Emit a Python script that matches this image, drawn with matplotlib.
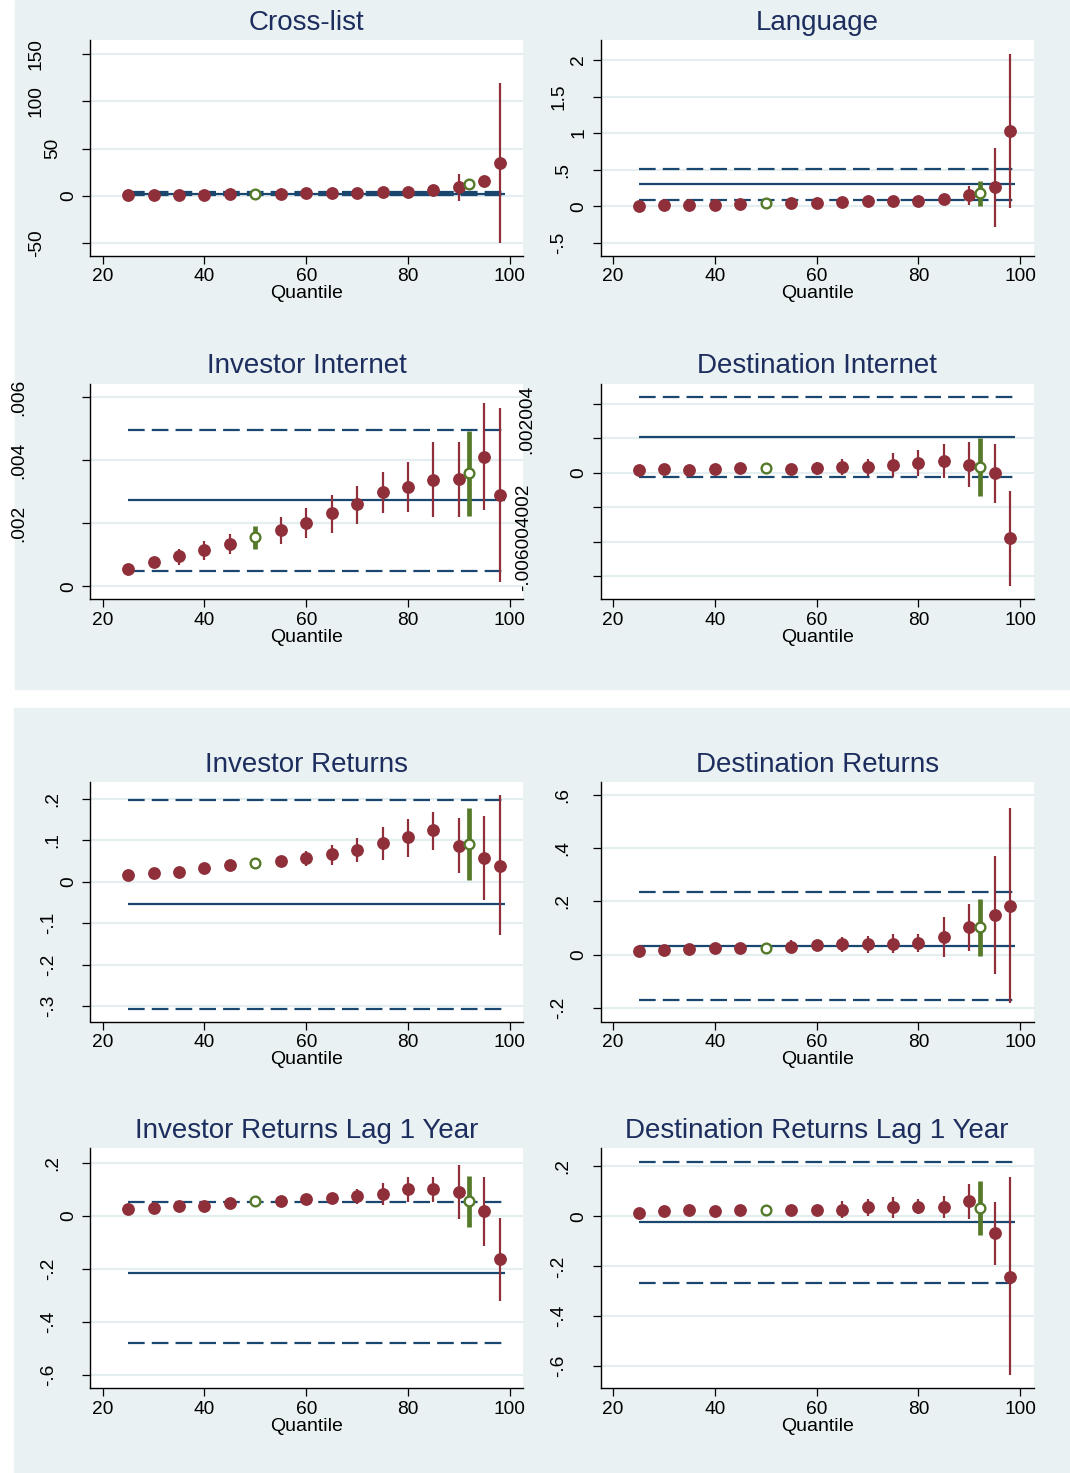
import matplotlib
matplotlib.use("Agg")
import matplotlib.pyplot as plt
import matplotlib.patches as mpatches
import matplotlib.transforms as mtrans
import numpy as np

plt.rcParams['font.family'] = ['Liberation Sans', 'DejaVu Sans']

# ---------------------- colours (stata s2color look)
bg_col = '#e9f1f2'
grid_col = '#e4eef0'
red_col = '#8f2f3a'
green_col = '#557a2a'
navy_col = '#1a476f'
title_col = '#1c2d5e'

# ---------------------- data
q_red = [25, 30, 35, 40, 45, 55, 60, 65, 70, 75, 80, 85, 90, 95, 98]
q_green = [50, 92]
line_span = [25, 99]
x_ticks = [20, 40, 60, 80, 100]

titles = ['Cross-list', 'Language', 'Investor Internet', 'Destination Internet',
          'Investor Returns', 'Destination Returns',
          'Investor Returns Lag 1 Year', 'Destination Returns Lag 1 Year']

# Cross-list
cross_val = [1, 1, 1, 1, 2, 2, 3, 3, 3, 3.5, 4, 6, 9, 15.5, 35]
cross_lo = [0.5, 0.5, 0.5, 0.5, 1, 1, 2, 2, 2, 2.5, 2.5, 4, -6, 12, -50]
cross_hi = [1.5, 1.5, 1.5, 1.5, 3, 3, 4, 4, 4, 4.5, 5.5, 8, 22.7, 19, 120]
cross_gval = [2, 12]
cross_glo = [1.5, 10.5]
cross_ghi = [2.5, 13.5]
cross_ols = [2.2, 0.3, 4.3]
cross_yticks = [-50, 0, 50, 100, 150]
cross_ylab = ['-50', '0', '50', '100', '150']

# Language
lang_val = [0.0, 0.01, 0.02, 0.02, 0.03, 0.04, 0.05, 0.055, 0.065, 0.065, 0.075, 0.10, 0.15, 0.26, 1.03]
lang_lo = [-0.01, 0.0, 0.01, 0.01, 0.02, 0.03, 0.04, 0.045, 0.055, 0.055, 0.06, 0.08, 0.01, -0.29, -0.02]
lang_hi = [0.01, 0.02, 0.03, 0.03, 0.04, 0.05, 0.06, 0.065, 0.075, 0.075, 0.09, 0.12, 0.28, 0.80, 2.08]
lang_gval = [0.04, 0.18]
lang_glo = [0.03, 0.0]
lang_ghi = [0.05, 0.35]
lang_ols = [0.30, 0.084, 0.51]
lang_yticks = [-0.5, 0, 0.5, 1, 1.5, 2]
lang_ylab = ['-.5', '0', '.5', '1', '1.5', '2']

# Investor Internet
iint_val = [0.00054, 0.00076, 0.00095, 0.00115, 0.00134, 0.00179, 0.00201, 0.00232,
            0.0026, 0.00298, 0.00314, 0.00338, 0.0034, 0.00411, 0.00289]
iint_lo = [0.00035, 0.00062, 0.00067, 0.00083, 0.00102, 0.00135, 0.00152, 0.0017,
           0.00199, 0.00233, 0.00235, 0.00221, 0.00221, 0.00243, 0.00013]
iint_hi = [0.00067, 0.00094, 0.00119, 0.00143, 0.00167, 0.00221, 0.00249, 0.00289,
           0.00318, 0.00363, 0.00396, 0.00457, 0.00457, 0.00582, 0.00567]
iint_gval = [0.00156, 0.0036]
iint_glo = [0.00119, 0.00224]
iint_ghi = [0.00192, 0.00492]
iint_ols = [0.00274, 0.0005, 0.00495]
iint_yticks = [0, 0.002, 0.004, 0.006]
iint_ylab = ['0', '.002', '.004', '.006']

# Destination Internet
dint_val = [0.00018, 0.00022, 0.00018, 0.00022, 0.00026, 0.00022, 0.00026, 0.00034,
            0.00036, 0.00043, 0.00059, 0.00071, 0.00047, 0.0, -0.00381]
dint_lo = [0.0001, 0.00014, 0.0001, 0.00014, 0.00018, 0.00014, -0.0001, -0.00014,
           -0.00016, -0.00024, -0.00016, -0.0003, -0.00085, -0.00174, -0.00656]
dint_hi = [0.00026, 0.0003, 0.00026, 0.0003, 0.00034, 0.0003, 0.00063, 0.00079,
           0.00083, 0.00113, 0.00132, 0.00168, 0.00178, 0.00168, -0.00105]
dint_gval = [0.00026, 0.00032]
dint_glo = [0.00018, -0.00134]
dint_ghi = [0.00034, 0.00202]
dint_ols = [0.00211, -0.00022, 0.00439]
dint_yticks = [-0.006, -0.004, -0.002, 0, 0.002, 0.004]
dint_ylab = ['', '', '', '0', '', '']

# Investor Returns
iret_val = [0.0156, 0.0206, 0.0239, 0.033, 0.0395, 0.050, 0.0576, 0.0675, 0.075,
            0.092, 0.107, 0.125, 0.086, 0.0576, 0.0387]
iret_lo = [0.011, 0.016, 0.019, 0.028, 0.034, 0.0354, 0.037, 0.041, 0.047,
           0.0519, 0.060, 0.0765, 0.0206, -0.0436, -0.129]
iret_hi = [0.020, 0.025, 0.029, 0.038, 0.045, 0.0617, 0.074, 0.0889, 0.1045,
           0.1317, 0.1506, 0.1687, 0.154, 0.158, 0.208]
iret_gval = [0.045, 0.0905]
iret_glo = [0.037, 0.004]
iret_ghi = [0.0535, 0.177]
iret_ols = [-0.0535, -0.306, 0.1975]
iret_yticks = [-0.3, -0.2, -0.1, 0, 0.1, 0.2]
iret_ylab = ['-.3', '-.2', '-.1', '0', '.1', '.2']

# Destination Returns
dret_val = [0.014, 0.0154, 0.022, 0.023, 0.0257, 0.0295, 0.036, 0.041, 0.0385,
            0.041, 0.0437, 0.0655, 0.104, 0.149, 0.184]
dret_lo = [0.008, 0.009, 0.016, 0.017, 0.02, 0.0116, 0.018, 0.0116, 0.0064,
           0.0064, 0.0116, -0.0077, 0.014, -0.072, -0.184]
dret_hi = [0.02, 0.021, 0.028, 0.029, 0.032, 0.0565, 0.0527, 0.0655, 0.069,
           0.0758, 0.078, 0.14, 0.191, 0.371, 0.551]
dret_gval = [0.0257, 0.104]
dret_glo = [0.02, -0.004]
dret_ghi = [0.032, 0.211]
dret_ols = [0.031, -0.172, 0.234]
dret_yticks = [-0.2, 0, 0.2, 0.4, 0.6]
dret_ylab = ['-.2', '0', '.2', '.4', '.6']

# Investor Returns Lag 1 Year
ilag_val = [0.0257, 0.031, 0.036, 0.037, 0.0475, 0.055, 0.0617, 0.0655, 0.073,
            0.082, 0.101, 0.101, 0.090, 0.019, -0.164]
ilag_lo = [0.018, 0.023, 0.028, 0.029, 0.04, 0.047, 0.054, 0.058, 0.046,
           0.041, 0.054, 0.054, -0.0128, -0.113, -0.321]
ilag_hi = [0.033, 0.039, 0.044, 0.045, 0.055, 0.063, 0.07, 0.074, 0.1,
           0.122, 0.148, 0.148, 0.19, 0.148, -0.0064]
ilag_gval = [0.055, 0.055]
ilag_glo = [0.047, -0.041]
ilag_ghi = [0.063, 0.1516]
ilag_ols = [-0.216, -0.480, 0.0527]
ilag_yticks = [-0.6, -0.4, -0.2, 0, 0.2]
ilag_ylab = ['-.6', '-.4', '-.2', '0', '.2']

# Destination Returns Lag 1 Year
dlag_val = [0.015, 0.023, 0.027, 0.023, 0.027, 0.027, 0.027, 0.027, 0.037,
            0.037, 0.038, 0.037, 0.060, -0.068, -0.242]
dlag_lo = [0.007, 0.015, 0.019, 0.015, 0.019, 0.019, 0.019, -0.0082, 0.0014,
           -0.0055, 0.0082, -0.0082, -0.0096, -0.194, -0.635]
dlag_hi = [0.023, 0.031, 0.035, 0.031, 0.035, 0.035, 0.035, 0.06, 0.0696,
           0.0765, 0.0696, 0.0805, 0.131, 0.056, 0.156]
dlag_gval = [0.027, 0.034]
dlag_glo = [0.019, -0.0765]
dlag_ghi = [0.035, 0.142]
dlag_ols = [-0.022, -0.265, 0.218]
dlag_yticks = [-0.6, -0.4, -0.2, 0, 0.2]
dlag_ylab = ['-.6', '-.4', '-.2', '0', '.2']

# ---------------------- layout (pixels)
W, H = 1070, 1473
col_x = [(90.4, 523.0), (600.8, 1033.5)]
row_y = [(40.3, 255.9), (383.7, 599.3), (782.0, 1021.5), (1148.4, 1388.3)]
x_lim = (17.58, 102.6)
y_lims = [(-64, 165), (-0.68, 2.27), (-0.00041, 0.00643), (-0.00735, 0.00518),
          (-0.337, 0.240), (-0.252, 0.650), (-0.649, 0.254), (-0.688, 0.272)]

panels = [
    (cross_val, cross_lo, cross_hi, cross_gval, cross_glo, cross_ghi, cross_ols, cross_yticks, cross_ylab),
    (lang_val, lang_lo, lang_hi, lang_gval, lang_glo, lang_ghi, lang_ols, lang_yticks, lang_ylab),
    (iint_val, iint_lo, iint_hi, iint_gval, iint_glo, iint_ghi, iint_ols, iint_yticks, iint_ylab),
    (dint_val, dint_lo, dint_hi, dint_gval, dint_glo, dint_ghi, dint_ols, dint_yticks, dint_ylab),
    (iret_val, iret_lo, iret_hi, iret_gval, iret_glo, iret_ghi, iret_ols, iret_yticks, iret_ylab),
    (dret_val, dret_lo, dret_hi, dret_gval, dret_glo, dret_ghi, dret_ols, dret_yticks, dret_ylab),
    (ilag_val, ilag_lo, ilag_hi, ilag_gval, ilag_glo, ilag_ghi, ilag_ols, ilag_yticks, ilag_ylab),
    (dlag_val, dlag_lo, dlag_hi, dlag_gval, dlag_glo, dlag_ghi, dlag_ols, dlag_yticks, dlag_ylab),
]


def px_rect(x0, x1, y0, y1):
    return [x0 / W, 1 - y1 / H, (x1 - x0) / W, (y1 - y0) / H]


def label_gap(s):
    # stata pushes longer rotated labels further from the axis
    if len(s) <= 1:
        return 22
    if len(s) == 2:
        return 38
    if len(s) == 3:
        return 42 if '.' in s else 54
    return 72


fig = plt.figure(figsize=(W / 100, H / 100), dpi=100, facecolor='white')

# two grey-blue graph regions
for (x0, y0, y1) in [(15, 0, 689), (14, 708, 1473)]:
    fig.patches.append(mpatches.Rectangle((x0 / W, 1 - y1 / H), (W - x0) / W, (y1 - y0) / H,
                                          transform=fig.transFigure, color=bg_col, zorder=-5))

dash = (0, (7.5, 3.2))
tick_fs = 13.8

for i, p in enumerate(panels):
    val, lo, hi, gval, glo, ghi, ols, yt, ylab = p
    r, c = divmod(i, 2)
    ax = fig.add_axes(px_rect(col_x[c][0], col_x[c][1], row_y[r][0], row_y[r][1]))
    ax.set_facecolor('white')

    ax.hlines(ols[0], line_span[0], line_span[1], color=navy_col, lw=1.6, zorder=2)
    ax.hlines(ols[1:], line_span[0], line_span[1], color=navy_col, lw=1.6,
              linestyles=[dash], zorder=2)

    ax.vlines(q_red, lo, hi, color=red_col, lw=1.6, zorder=3)
    ax.plot(q_red, val, 'o', ms=8.2, color=red_col, zorder=4)
    ax.vlines(q_green, glo, ghi, color=green_col, lw=3.4, zorder=3)
    ax.plot(q_green, gval, 'o', ms=7.0, mfc='white', mec=green_col, mew=1.7, zorder=5)

    ax.set_xlim(*x_lim)
    ax.set_ylim(*y_lims[i])
    ax.set_xticks(x_ticks)
    ax.set_yticks(yt)
    ax.set_yticklabels([])
    ax.yaxis.grid(True, color=grid_col, lw=1.6)
    ax.set_axisbelow(True)
    ax.tick_params(axis='x', direction='out', length=6, width=0.9, labelsize=tick_fs, pad=3)
    ax.tick_params(axis='y', direction='out', length=5.5, width=0.9)
    for sp in ['top', 'right']:
        ax.spines[sp].set_visible(False)
    for sp in ['left', 'bottom']:
        ax.spines[sp].set_linewidth(1.0)

    for t, s in zip(yt, ylab):
        if s == '':
            continue
        tr = mtrans.blended_transform_factory(ax.transAxes, ax.transData) + \
            mtrans.ScaledTranslation(-label_gap(s) / 100, 0, fig.dpi_scale_trans)
        ax.text(0, t, s, transform=tr, rotation=90, ha='center', va='center',
                fontsize=tick_fs, clip_on=False)

    ax.set_xlabel('Quantile', fontsize=14, labelpad=0)
    ax.set_title(titles[i], fontsize=20, color=title_col, pad=7.5)

# the overlapping y labels of "Destination Internet" as they appear in the original
fig.text(527 / W, 1 - 419 / H, '.002004', rotation=90, ha='center', va='center', fontsize=tick_fs)
fig.text(524 / W, 1 - 537 / H, '-.006004002', rotation=90, ha='center', va='center', fontsize=tick_fs)

fig.savefig('out.png', dpi=100, facecolor='white')
